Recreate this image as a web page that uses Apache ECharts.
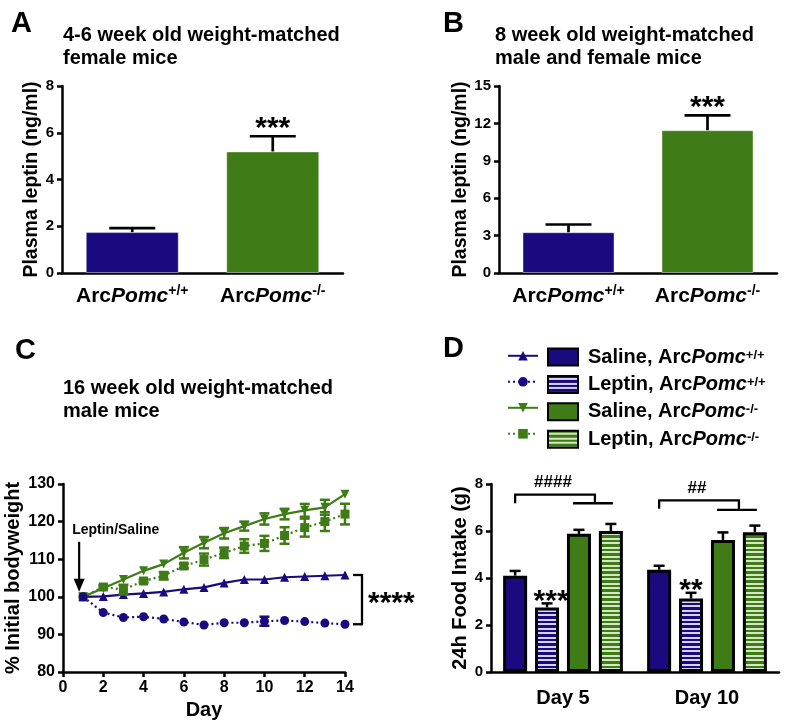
<!DOCTYPE html>
<html><head><meta charset="utf-8">
<script src="https://cdn.jsdelivr.net/npm/echarts@6/dist/echarts.min.js"></script>
<style>html,body{margin:0;padding:0;background:#fff}#c{width:787px;height:725px}</style>
</head><body><div id="c"></div>
<script>
// ---------------- DATA ----------------
// Panel A & B : plasma leptin
const genotypes = ['+/+', '-/-'];
const leptinA = [1.75, 5.2];
const leptinAsem = [0.17, 0.65];
const leptinB = [3.27, 11.45];
const leptinBsem = [0.62, 1.2];

// Panel C : % initial bodyweight
const days = [1, 2, 3, 4, 5, 6, 7, 8, 9, 10, 11, 12, 13, 14];
const salineWT = [100, 100.1, 100.6, 100.9, 101.3, 102.0, 102.5, 103.7, 104.6, 104.6, 105.2, 105.4, 105.6, 105.8];
const salineWTsem = [0, 0, 0, 0, 0, 0, 0, 0, 0, 0, 0, 0, 0, 0];
const leptinWT = [100, 95.8, 94.5, 94.7, 94.1, 93.3, 92.5, 93.1, 93.1, 93.5, 93.7, 93.4, 93.0, 92.7];
const leptinWTsem = [0, 0, 0, 0, 0, 0, 0, 0, 0, 1.2, 0, 0, 0, 0];
const salineKO = [100, 102.3, 104.6, 106.9, 108.7, 111.7, 114.4, 116.9, 118.8, 120.7, 122.0, 123.0, 123.8, 127.3];
const salineKOsem = [0, 0, 0, 0, 0, 1.5, 1.5, 1.4, 1.2, 1.5, 1.4, 1.7, 2.0, 0];
const leptinKO = [100, 102.6, 101.9, 104.2, 105.6, 108.2, 109.9, 111.7, 113.5, 114.2, 116.3, 118.4, 120.0, 122.0];
const leptinKOsem = [0, 0.4, 1.3, 0.4, 1.0, 0.6, 1.6, 1.4, 1.8, 2.0, 2.2, 2.4, 2.5, 2.75];

// Panel D : 24h food intake
const dayCats = ['Day 5', 'Day 10'];
const fiSalineWT = [4.1, 4.35];
const fiSalineWTsem = [0.2, 0.17];
const fiLeptinWT = [2.75, 3.13];
const fiLeptinWTsem = [0.17, 0.24];
const fiSalineKO = [5.88, 5.62];
const fiSalineKOsem = [0.17, 0.32];
const fiLeptinKO = [6.0, 5.95];
const fiLeptinKOsem = [0.3, 0.28];

const groupNames = ['Saline, ArcPomc+/+', 'Leptin, ArcPomc+/+', 'Saline, ArcPomc-/-', 'Leptin, ArcPomc-/-'];

// ---------------- STYLE ----------------
const FF = '"Liberation Sans", Arial, Helvetica, sans-serif';
const BLUE = '#1a0a80';
const GREEN = '#3f7b17';

function stripe(base, line) {
  const c = document.createElement('canvas');
  c.width = 4; c.height = 9;
  const ctx = c.getContext('2d');
  ctx.fillStyle = base; ctx.fillRect(0, 0, 4, 9);
  ctx.fillStyle = line;
  ctx.fillRect(0, 2, 4, 2);
  ctx.fillRect(0, 7, 4, 2);
  return { image: c, repeat: 'repeat' };
}
const BLUE_STRIPE = stripe(BLUE, '#d6d4f0');
const GREEN_STRIPE = stripe(GREEN, '#d4e8c4');

const axLine = { show: true, onZero: false, lineStyle: { color: '#000', width: 2.5 } };
const axTick = { show: true, length: 5, lineStyle: { color: '#000', width: 2.5 } };
function axLabel(size, margin) {
  return { color: '#000', fontWeight: 'bold', fontSize: size, fontFamily: FF, margin: margin };
}
function nameStyle(size) {
  return { color: '#000', fontWeight: 'bold', fontSize: size, fontFamily: FF };
}
const genoRich = {
  n: { fontSize: 21, fontWeight: 'bold', color: '#000', fontFamily: FF, lineHeight: 24 },
  i: { fontSize: 21, fontWeight: 'bold', fontStyle: 'italic', color: '#000', fontFamily: FF, lineHeight: 24 },
  s: { fontSize: 14, fontWeight: 'bold', color: '#000', fontFamily: FF, verticalAlign: 'top', lineHeight: 14 }
};
const legRich = {
  n: { fontSize: 20, fontWeight: 'bold', color: '#000', fontFamily: FF, lineHeight: 17 },
  i: { fontSize: 20, fontWeight: 'bold', fontStyle: 'italic', color: '#000', fontFamily: FF, lineHeight: 17 },
  s: { fontSize: 13, fontWeight: 'bold', color: '#000', fontFamily: FF, verticalAlign: 'top', lineHeight: 8 }
};
function genoFmt(name) {
  const m = name.match(/^(.*Arc)(Pomc)(.*)$/);
  return '{n|' + m[1] + '}{i|' + m[2] + '}{s|' + m[3] + '}';
}

// ---- error bar renderer ----
function errRender(offset, cap, both, color, width) {
  return function (params, api) {
    const x = api.value(0), y = api.value(1), e = api.value(2);
    if (!(e > 0)) return;
    const c = api.coord([x, y]);
    const t = api.coord([x, y + e]);
    const b = api.coord([x, y - e]);
    const cx = c[0] + offset;
    const st = { stroke: color, lineWidth: width };
    const ch = [
      { type: 'line', shape: { x1: cx, y1: both ? b[1] : c[1], x2: cx, y2: t[1] }, style: st },
      { type: 'line', shape: { x1: cx - cap, y1: t[1], x2: cx + cap, y2: t[1] }, style: st }
    ];
    if (both) ch.push({ type: 'line', shape: { x1: cx - cap, y1: b[1], x2: cx + cap, y2: b[1] }, style: st });
    return { type: 'group', children: ch };
  };
}

const genoCats = genotypes.map(g => 'ArcPomc' + g);
const BW = 24, BGAP = 0.33;
function dOffset(i) {
  const gap = BW * BGAP;
  const total = 4 * BW + 3 * gap;
  return -total / 2 + BW / 2 + i * (BW + gap);
}

const dSeries = [
  [fiSalineWT, fiSalineWTsem, BLUE],
  [fiLeptinWT, fiLeptinWTsem, BLUE_STRIPE],
  [fiSalineKO, fiSalineKOsem, GREEN],
  [fiLeptinKO, fiLeptinKOsem, GREEN_STRIPE]
];
const cLines = [
  { name: 'c-' + groupNames[2], data: salineKO, sem: salineKOsem, color: GREEN, sym: 'triangle', rot: 180, size: 9, dash: 'solid' },
  { name: 'c-' + groupNames[3], data: leptinKO, sem: leptinKOsem, color: GREEN, sym: 'rect', rot: 0, size: 9, dash: [2, 3] },
  { name: 'c-' + groupNames[0], data: salineWT, sem: salineWTsem, color: BLUE, sym: 'triangle', rot: 0, size: 9, dash: 'solid' },
  { name: 'c-' + groupNames[1], data: leptinWT, sem: leptinWTsem, color: BLUE, sym: 'circle', rot: 0, size: 9, dash: [2, 3] }
];

const series = [];
// A
series.push({
  type: 'bar', xAxisIndex: 0, yAxisIndex: 0, barWidth: 93,
  data: leptinA.map((v, i) => ({ value: v, itemStyle: { color: i === 0 ? BLUE : GREEN } })),
  itemStyle: { borderColor: 'rgba(255,255,255,0.4)', borderWidth: 1 }
});
series.push({
  type: 'custom', xAxisIndex: 0, yAxisIndex: 0, z: 5,
  renderItem: errRender(0, 23, false, '#000', 2.7),
  data: leptinA.map((v, i) => [i, v, leptinAsem[i]])
});
// B
series.push({
  type: 'bar', xAxisIndex: 1, yAxisIndex: 1, barWidth: 92,
  data: leptinB.map((v, i) => ({ value: v, itemStyle: { color: i === 0 ? BLUE : GREEN } })),
  itemStyle: { borderColor: 'rgba(255,255,255,0.4)', borderWidth: 1 }
});
series.push({
  type: 'custom', xAxisIndex: 1, yAxisIndex: 1, z: 5,
  renderItem: errRender(0, 23, false, '#000', 2.7),
  data: leptinB.map((v, i) => [i, v, leptinBsem[i]])
});
// C
cLines.forEach(s => {
  series.push({
    type: 'line', name: s.name, xAxisIndex: 2, yAxisIndex: 2,
    data: days.map((d, i) => [d, s.data[i]]),
    symbol: s.sym, symbolSize: s.size, symbolRotate: s.rot,
    lineStyle: { color: s.color, width: 2.2, type: s.dash },
    itemStyle: { color: s.color },
    z: 3
  });
  series.push({
    type: 'custom', xAxisIndex: 2, yAxisIndex: 2, z: 4,
    renderItem: errRender(0, 5, true, s.color, 2.5),
    data: days.map((d, i) => [d, s.data[i], s.sem[i]])
  });
});
// D
dSeries.forEach((s, k) => {
  series.push({
    type: 'bar', name: groupNames[k], xAxisIndex: 3, yAxisIndex: 3,
    barWidth: BW, barGap: (BGAP * 100) + '%',
    data: s[0],
    itemStyle: { color: s[2], borderColor: '#000', borderWidth: 3 }
  });
  series.push({
    type: 'custom', xAxisIndex: 3, yAxisIndex: 3, z: 5,
    renderItem: errRender(dOffset(k), 5.5, false, '#000', 2.5),
    data: s[0].map((v, i) => [i, v, s[1][i]])
  });
});

const titleStyle = { fontSize: 20, fontWeight: 'bold', fontFamily: FF, color: '#000', lineHeight: 23 };
const letterStyle = { fontSize: 29, fontWeight: 'bold', fontFamily: FF, color: '#000' };
const catLabel = { formatter: genoFmt, rich: genoRich, margin: 11, interval: 0, hideOverlap: false };

const option = {
  animation: false,
  backgroundColor: '#fff',
  title: [
    { text: 'A', left: 11, top: 9, padding: 0, textStyle: letterStyle },
    { text: 'B', left: 443, top: 9, padding: 0, textStyle: letterStyle },
    { text: 'C', left: 15, top: 336, padding: 0, textStyle: letterStyle },
    { text: 'D', left: 443, top: 334, padding: 0, textStyle: letterStyle },
    { text: '4-6 week old weight-matched\nfemale mice', left: 63, top: 24, padding: 0, textStyle: titleStyle },
    { text: '8 week old weight-matched\nmale and female mice', left: 495, top: 24, padding: 0, textStyle: titleStyle },
    { text: '16 week old weight-matched\nmale mice', left: 63, top: 377, padding: 0, textStyle: titleStyle }
  ],
  legend: [
    {
      data: groupNames.map(n => 'c-' + n),
      orient: 'vertical', left: 502, top: 346, itemWidth: 30, itemHeight: 12, itemGap: 16.4,
      selectedMode: false, formatter: () => '', textStyle: { fontSize: 10, lineHeight: 12 }
    },
    {
      data: groupNames, orient: 'vertical', left: 542, top: 342, itemWidth: 30, itemHeight: 17,
      icon: 'rect', selectedMode: false, itemGap: 7.4,
      formatter: genoFmt, textStyle: { rich: legRich, padding: [0, 0, 0, 5] }
    }
  ],
  grid: [
    { left: 62, top: 86, width: 281, height: 187 },
    { left: 499, top: 86, width: 278, height: 187 },
    { left: 63, top: 484, width: 282, height: 188 },
    { left: 491, top: 484, width: 288, height: 188 }
  ],
  xAxis: [
    { type: 'category', gridIndex: 0, data: genoCats, axisLine: axLine, axisTick: { show: false }, axisLabel: catLabel },
    { type: 'category', gridIndex: 1, data: genoCats, axisLine: axLine, axisTick: { show: false }, axisLabel: catLabel },
    { type: 'value', gridIndex: 2, min: 0, max: 14, interval: 2, axisLine: axLine, axisTick: axTick,
      axisLabel: axLabel(16, 8), splitLine: { show: false },
      name: 'Day', nameLocation: 'middle', nameGap: 28, nameTextStyle: nameStyle(20) },
    { type: 'category', gridIndex: 3, data: dayCats, axisLine: axLine, axisTick: { show: false },
      axisLabel: axLabel(20, 16) }
  ],
  yAxis: [
    { type: 'value', gridIndex: 0, min: 0, max: 8, interval: 2, axisLine: axLine, axisTick: axTick,
      axisLabel: axLabel(15, 8), splitLine: { show: false },
      name: 'Plasma leptin (ng/ml)', nameLocation: 'middle', nameGap: 18, nameTextStyle: nameStyle(19.5) },
    { type: 'value', gridIndex: 1, min: 0, max: 15, interval: 3, axisLine: axLine, axisTick: axTick,
      axisLabel: axLabel(15, 8), splitLine: { show: false },
      name: 'Plasma leptin (ng/ml)', nameLocation: 'middle', nameGap: 27, nameTextStyle: nameStyle(19.5) },
    { type: 'value', gridIndex: 2, min: 80, max: 130, interval: 10, axisLine: axLine, axisTick: axTick,
      axisLabel: axLabel(16, 8), splitLine: { show: false },
      name: '% Initial bodyweight', nameLocation: 'middle', nameGap: 40, nameTextStyle: nameStyle(20) },
    { type: 'value', gridIndex: 3, min: 0, max: 8, interval: 2, axisLine: axLine, axisTick: axTick,
      axisLabel: axLabel(15, 8), splitLine: { show: false },
      name: '24h Food Intake (g)', nameLocation: 'middle', nameGap: 15, nameTextStyle: nameStyle(20) }
  ],
  series: series
};

const chart = echarts.init(document.getElementById('c'), null, { renderer: 'canvas', width: 787, height: 725 });
chart.setOption(option);

// ---------------- ANNOTATIONS (positions derived via axes) ----------------
function px(idx, pt) { return chart.convertToPixel({ xAxisIndex: idx, yAxisIndex: idx }, pt); }
const starFont = 'bold 30px ' + FF;
const g = [];
function star(txt, p, dy) {
  g.push({ type: 'text', x: p[0], y: p[1] + dy, style: { text: txt, font: starFont, fill: '#000', align: 'center', verticalAlign: 'middle' }, z: 10 });
}
function seg(x1, y1, x2, y2, w) {
  g.push({ type: 'line', shape: { x1: x1, y1: y1, x2: x2, y2: y2 }, style: { stroke: '#000', lineWidth: w || 2.3 }, z: 10 });
}
// A / B stars
star('***', px(0, [1, leptinA[1] + leptinAsem[1]]), -8);
star('***', px(1, [1, leptinB[1] + leptinBsem[1]]), -8);
// D stars
(function () {
  const p5 = px(3, [0, fiLeptinWT[0] + fiLeptinWTsem[0]]);
  star('***', [p5[0] + dOffset(1) + 4, p5[1]], -2);
  const p10 = px(3, [1, fiLeptinWT[1] + fiLeptinWTsem[1]]);
  star('**', [p10[0] + dOffset(1), p10[1]], -2);
  // brackets
  const br = [
    { cat: 0, top: 7.55, legL: 7.18, legR: 7.18, txt: '####' },
    { cat: 1, top: 7.3, legL: 6.95, legR: 6.9, txt: '##' }
  ];
  br.forEach(b => {
    const c = px(3, [b.cat, b.top]);
    const yl = px(3, [b.cat, b.legL])[1];
    const yr = px(3, [b.cat, b.legR])[1];
    const xL = c[0] + dOffset(0);
    const xR = c[0] + (dOffset(2) + dOffset(3)) / 2;
    const x2a = c[0] + dOffset(2) - 6, x2b = c[0] + dOffset(3) + 2;
    seg(xL, yl, xL, c[1]);
    seg(xL - 1, c[1], xR + 1, c[1]);
    seg(xR, c[1], xR, yr);
    seg(x2a, yr, x2b, yr);
    g.push({ type: 'text', x: (xL + xR) / 2 - 2, y: c[1] - 12, style: { text: b.txt, font: 'bold 17px ' + FF, fill: '#000', align: 'center', verticalAlign: 'middle' }, z: 10 });
  });
})();
// C bracket and stars
(function () {
  const last = days.length - 1;
  const pTop = px(2, [days[last], salineWT[last]]);
  const pBot = px(2, [days[last], leptinWT[last]]);
  const xb = pTop[0] + 17;
  seg(xb - 9, pTop[1], xb, pTop[1]);
  seg(xb, pTop[1] - 1, xb, pBot[1] + 1);
  seg(xb - 9, pBot[1], xb, pBot[1]);
  g.push({ type: 'text', x: xb + 6, y: (pTop[1] + pBot[1]) / 2 + 4, style: { text: '****', font: starFont, fill: '#000', align: 'left', verticalAlign: 'middle' }, z: 10 });
  // arrow
  const p0 = px(2, [days[0], salineWT[0]]);
  const ax = p0[0] - 4, tip = p0[1] - 5, topY = p0[1] - 55;
  seg(ax, topY, ax, tip - 10, 2.2);
  g.push({ type: 'polygon', shape: { points: [[ax - 5.5, tip - 13], [ax + 5.5, tip - 13], [ax, tip]] }, style: { fill: '#000' }, z: 10 });
  g.push({ type: 'text', x: p0[0] - 11, y: topY - 12, style: { text: 'Leptin/Saline', font: 'bold 14px ' + FF, fill: '#000', align: 'left', verticalAlign: 'middle' }, z: 10 });
})();
chart.setOption({ graphic: g });
</script>
</body></html>
